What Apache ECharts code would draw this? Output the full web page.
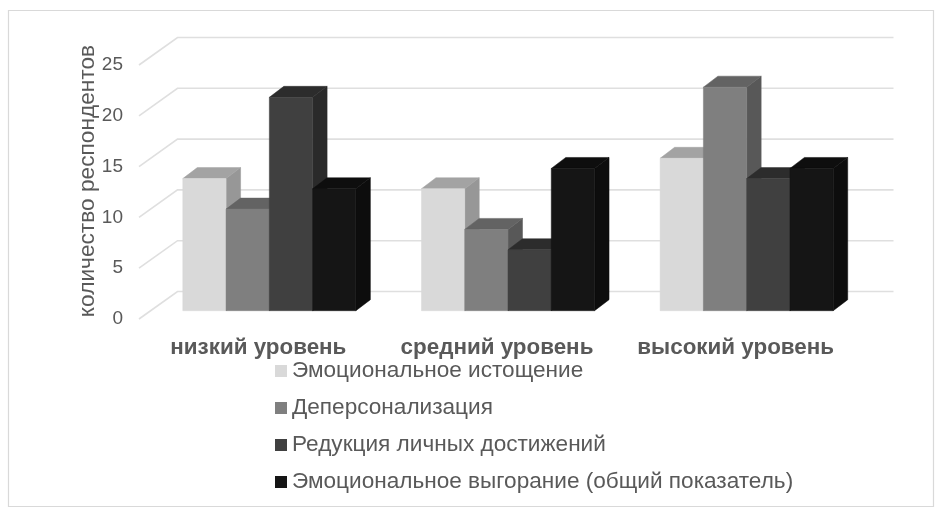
<!DOCTYPE html>
<html><head><meta charset="utf-8">
<style>html,body{margin:0;padding:0;background:#fff}#c{width:945px;height:518px}</style>
<script src="https://cdn.jsdelivr.net/npm/echarts@6/dist/echarts.min.js"></script>
</head><body><div id="c"></div>
<script>
const categories = ['низкий уровень', 'средний уровень', 'высокий уровень'];
const seriesNames = ['Эмоциональное истощение', 'Деперсонализация', 'Редукция личных достижений', 'Эмоциональное выгорание (общий показатель)'];
const exhaustion = [13, 12, 15];
const depersonalization = [10, 8, 22];
const reduction = [21, 6, 13];
const burnout = [12, 14, 14];
const yTicks = [0, 5, 10, 15, 20, 25];
const yTitle = 'количество респондентов';
const faceColors = ['#d9d9d9', '#7f7f7f', '#404040', '#151515'];
const topColors = ['#a3a3a3', '#636363', '#2c2c2c', '#0e0e0e'];
const sideColors = ['#979797', '#585858', '#2a2a2a', '#0d0d0d'];

const TEXT = '#595959', FONT = '"Liberation Sans", Arial, sans-serif';
const BASE_DX = 11, BASE_DY = -8.3, DEPTH_DX = 14.5, DEPTH_DY = -11, WALL_DX = 38.5, WALL_DY = -27.5;
const BAR_RATIO = 0.1813;

function barRenderer(si) {
  return function (params, api) {
    const cat = api.value(0), val = api.value(1);
    const w = api.size([1, 0])[0] * BAR_RATIO;
    const top = api.coord([cat, val]), bot = api.coord([cat, 0]);
    const x0 = top[0] + (si - 2) * w + BASE_DX, x1 = x0 + w;
    const yT = top[1] + BASE_DY, yB = bot[1] + BASE_DY;
    const dx = DEPTH_DX, dy = DEPTH_DY;
    const poly = (points, fill) => ({ type: 'polygon', shape: { points }, style: { fill, stroke: fill, lineWidth: 0.5 }, silent: true });
    return { type: 'group', children: [
      poly([[x1, yT], [x1 + dx, yT + dy], [x1 + dx, yB + dy], [x1, yB]], sideColors[si]),
      poly([[x0, yT], [x0 + dx, yT + dy], [x1 + dx, yT + dy], [x1, yT]], topColors[si]),
      poly([[x0, yT], [x1, yT], [x1, yB], [x0, yB]], faceColors[si])
    ] };
  };
}
function wallRenderer(params, api) {
  const r = params.coordSys;
  const y = api.coord([0, api.value(0)])[1];
  return { type: 'polyline', silent: true,
    shape: { points: [[r.x, y], [r.x + WALL_DX, y + WALL_DY], [r.x + r.width + WALL_DX, y + WALL_DY]] },
    style: { fill: null, stroke: '#dfdfdf', lineWidth: 1.6 } };
}
const valueLists = [exhaustion, depersonalization, reduction, burnout];
const option = {
  animation: false,
  backgroundColor: '#fff',
  textStyle: { fontFamily: FONT },
  graphic: [{ type: 'rect', shape: { x: 8.5, y: 10.5, width: 925, height: 496 }, style: { fill: 'none', stroke: '#d9d9d9', lineWidth: 1.2 }, silent: true }],
  grid: { left: 139, top: 65, width: 716, height: 254, containLabel: false },
  legend: {
    orient: 'vertical', left: 270, top: 354.5, itemWidth: 12, itemHeight: 12, itemGap: 14, icon: 'rect', selectedMode: false,
    data: seriesNames,
    textStyle: { color: TEXT, fontSize: 22.6, fontFamily: FONT }
  },
  xAxis: { type: 'category', data: categories, axisLine: { show: false }, axisTick: { show: false }, splitLine: { show: false },
    axisLabel: { color: TEXT, fontSize: 22.4, fontWeight: 'bold', fontFamily: FONT, margin: 18, interval: 0 } },
  yAxis: { type: 'value', min: 0, max: 25, interval: 5, axisLine: { show: false }, axisTick: { show: false }, splitLine: { show: false },
    axisLabel: { color: TEXT, fontSize: 19, fontFamily: FONT, margin: 16 },
    name: yTitle, nameLocation: 'middle', nameRotate: 90, nameGap: 40, nameMoveOverlap: false,
    nameTextStyle: { color: TEXT, fontSize: 22.7, fontFamily: FONT, padding: [0, 0, 0, 22] } },
  series: [
    { type: 'custom', name: 'walls', data: yTicks.map(v => [v]), encode: { y: 0 }, renderItem: wallRenderer, silent: true, z: 1 },
    ...seriesNames.map((name, si) => ({
      type: 'custom', name, z: 2 + si, silent: true,
      itemStyle: { color: faceColors[si] },
      encode: { x: 0, y: 1 },
      data: categories.map((c, i) => [i, valueLists[si][i]]),
      renderItem: barRenderer(si)
    }))
  ]
};
echarts.init(document.getElementById('c'), null, { renderer: 'canvas' }).setOption(option);
</script></body></html>
